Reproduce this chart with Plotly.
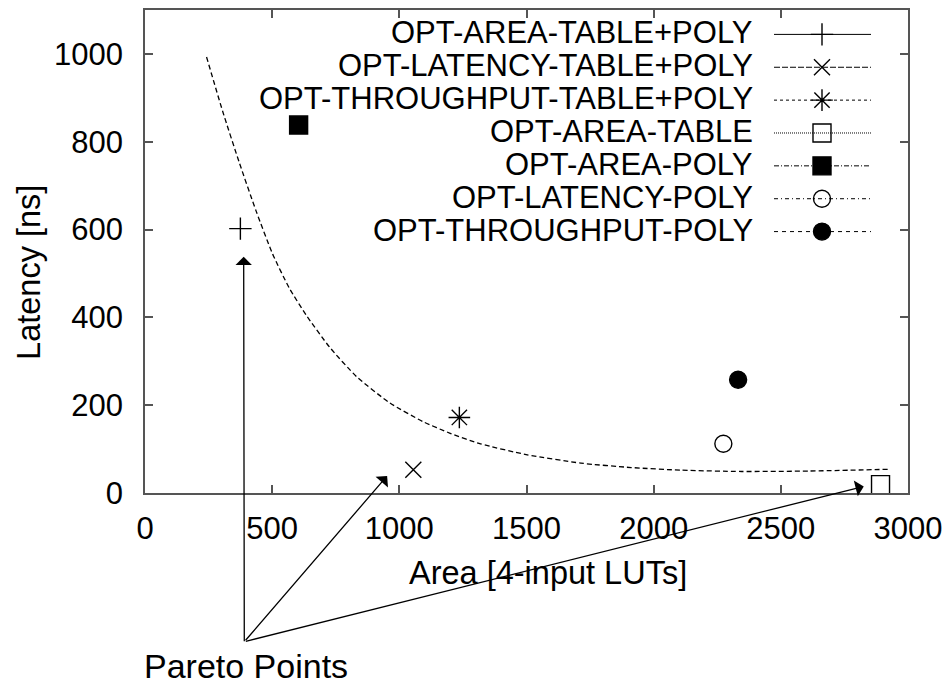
import plotly.graph_objects as go

# ---------------- data ----------------
series_names = [
    "OPT-AREA-TABLE+POLY",
    "OPT-LATENCY-TABLE+POLY",
    "OPT-THROUGHPUT-TABLE+POLY",
    "OPT-AREA-TABLE",
    "OPT-AREA-POLY",
    "OPT-LATENCY-POLY",
    "OPT-THROUGHPUT-POLY",
]
area_luts = [375, 1055, 1236, 2892, 604, 2274, 2332]
latency_ns = [602, 53, 172, 19, 838, 112, 258]

# Pareto front (dashed curve)
pareto_x = [242, 305, 371, 437, 502, 568, 634, 726, 832, 963, 1095, 1200,
            1319, 1503, 1714, 1911, 2108, 2346, 2609, 2925]
pareto_y = [993, 870, 752, 642, 544, 466, 405, 332, 265, 205, 162, 136,
            112, 87, 68, 58, 52, 49, 50, 54]

# Pareto points pointed at by arrows
pareto_pts_x = [388, 952, 2826]
pareto_pts_y = [538, 39, 15]

x_ticks = [0, 500, 1000, 1500, 2000, 2500, 3000]
y_ticks = [0, 200, 400, 600, 800, 1000]

# ---------------- styles ----------------
symbols = ["cross-thin-open", "x-thin-open", "asterisk-open", "square-open",
           "square", "circle-open", "circle"]
sizes = [16, 16, 18, 18, 18, 17, 17]
dashes = ["solid", "6px,2px", "3px,3px", "1px,1px", "5px,2px,1px,2px",
          "4px,3px,1px,3px", "4px,4px"]

FONT = "Liberation Sans, Arial, sans-serif"
FS = 31
LFS = 31
W, H = 952, 684
ML, MR, MT, MB = 145, 44, 8, 191
PW, PH = W - ML - MR, H - MT - MB
XMAX, YMAX = 3000, 1100
AXC = "#555555"


def to_px(x, y):
    return ML + x * PW / XMAX, MT + PH - y * PH / YMAX


def paper(px, py):
    return (px - ML) / PW, (MT + PH - py) / PH


fig = go.Figure()

# Pareto curve
fig.add_trace(go.Scatter(
    x=pareto_x, y=pareto_y, mode="lines",
    line=dict(color="black", width=1.3, dash="5px,3px", shape="spline", smoothing=0.6),
    showlegend=False, hoverinfo="skip"))

# data points
for i, name in enumerate(series_names):
    fig.add_trace(go.Scatter(
        x=[area_luts[i]], y=[latency_ns[i]], mode="markers", name=name,
        marker=dict(symbol=symbols[i], size=sizes[i], color="black",
                    line=dict(color="black", width=1.4)),
        showlegend=False, cliponaxis=False))

# custom legend (text left, sample right) on an overlay pixel axis
row_top = 460.5
row_step = 33
lx0, lxc, lx1 = 629, 677, 726
annotations = []
for i, name in enumerate(series_names):
    ry = row_top - i * row_step
    fig.add_trace(go.Scatter(
        x=[lx0, lx1], y=[ry, ry], mode="lines", xaxis="x2", yaxis="y2",
        line=dict(color="black", width=1, dash=dashes[i]),
        showlegend=False, hoverinfo="skip"))
    fig.add_trace(go.Scatter(
        x=[lxc], y=[ry], mode="markers", xaxis="x2", yaxis="y2",
        marker=dict(symbol=symbols[i], size=sizes[i], color="black",
                    line=dict(color="black", width=1.4)),
        showlegend=False, hoverinfo="skip", cliponaxis=False))
    annotations.append(dict(
        x=609, y=ry + 1.5, xref="x2", yref="y2", text=name, showarrow=False,
        xanchor="right", yanchor="middle", borderpad=0,
        font=dict(family=FONT, size=LFS, color="black")))

# arrows from "Pareto Points" label
tail_px, tail_py = 244.3, 641.7
for hx, hy in zip(pareto_pts_x, pareto_pts_y):
    px, py = to_px(hx, hy)
    annotations.append(dict(
        x=hx, y=hy, xref="x", yref="y", text="", showarrow=True,
        ax=tail_px - px, ay=tail_py - py, axref="pixel", ayref="pixel",
        arrowhead=1, arrowsize=2.1, arrowwidth=1.3, arrowcolor="black",
        standoff=0, startstandoff=0))

# axis titles and label
ax_, ay_ = paper(29, 272)
annotations.append(dict(x=ax_, y=ay_, xref="paper", yref="paper",
                        text="Latency [ns]", textangle=-90, showarrow=False,
                        xanchor="center", yanchor="middle",
                        font=dict(family=FONT, size=32.5, color="black")))
bx, by = paper(548, 573)
annotations.append(dict(x=bx, y=by, xref="paper", yref="paper",
                        text="Area [4-input LUTs]", showarrow=False,
                        xanchor="center", yanchor="middle",
                        font=dict(family=FONT, size=32.5, color="black")))
cx, cy = paper(142, 667)
annotations.append(dict(x=cx, y=cy, xref="paper", yref="paper",
                        text="Pareto Points", showarrow=False,
                        xanchor="left", yanchor="middle",
                        font=dict(family=FONT, size=34, color="black")))

axis_common = dict(
    showline=True, linecolor=AXC, linewidth=1.5, mirror="ticks",
    ticks="inside", ticklen=8, tickwidth=1.5, tickcolor=AXC,
    showgrid=False, zeroline=False,
    tickfont=dict(family=FONT, size=FS, color="black"),
)

fig.update_layout(
    width=W, height=H,
    margin=dict(l=ML, r=MR, t=MT, b=MB, pad=0),
    paper_bgcolor="white", plot_bgcolor="white",
    showlegend=False,
    xaxis=dict(range=[0, XMAX], tickvals=x_ticks, ticklabelstandoff=7, **axis_common),
    yaxis=dict(range=[0, YMAX], tickvals=y_ticks, ticklabelstandoff=14, **axis_common),
    xaxis2=dict(range=[0, PW], overlaying="x", anchor="y2", visible=False, fixedrange=True),
    yaxis2=dict(range=[0, PH], overlaying="y", anchor="x2", visible=False, fixedrange=True),
    annotations=annotations,
    font=dict(family=FONT, color="black"),
)

fig.write_html("out.html")
